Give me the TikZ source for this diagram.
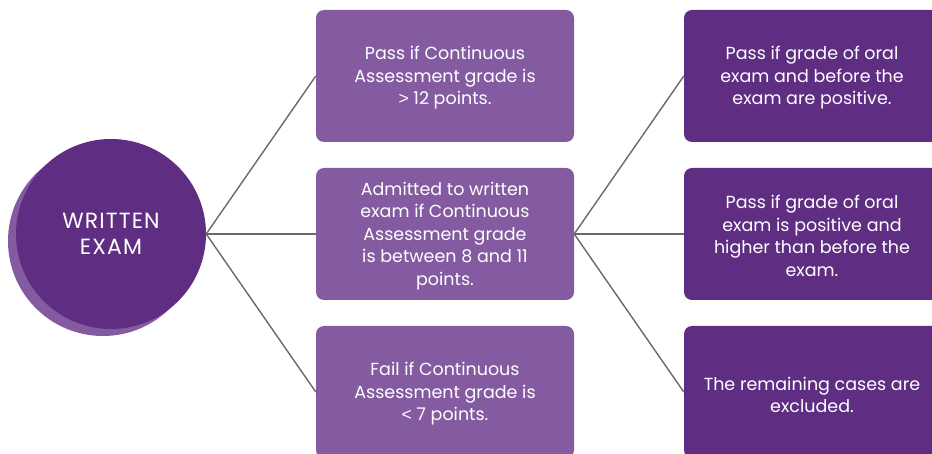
\documentclass[tikz,border=0pt]{standalone}
\usepackage{fontspec}
\setmainfont{Poppins}
\newfontfamily\symfont{Liberation Sans}
\newcommand{\gtsym}{{\symfont >}}
\newcommand{\ltsym}{{\symfont <}}
\definecolor{lightpurple}{HTML}{845BA0}
\definecolor{darkpurple}{HTML}{5F2E82}
\definecolor{linegray}{HTML}{6A6A6A}
\begin{document}
\begin{tikzpicture}[x=1pt,y=-1pt,
  box/.style={rectangle, rounded corners=8pt, minimum width=258pt, minimum height=132pt, inner sep=0pt},
  leftbox/.style={box, fill=lightpurple},
  rightbox/.style={box, fill=darkpurple, minimum width=260pt},
  txt/.style={inner sep=0pt, text=white, align=center, font=\fontsize{17.5}{22.5}\selectfont, yshift=-2pt},
  conn/.style={draw=linegray, line width=1.4pt}]
\clip (0,0) rectangle (932,454);
\fill[white] (0,0) rectangle (932,454);
% circle with shadow
\fill[lightpurple] (103,241) circle (95);
\node[circle, fill=darkpurple, minimum size=190pt, inner sep=0pt, text=white, align=center,
  font=\fontsize{22}{26.5}\selectfont\addfontfeatures{LetterSpace=5}] (c) at (111,234) {WRITTEN\\EXAM};
% left boxes
\node[leftbox] (l1) at (445,76) {};
\node[leftbox] (l2) at (445,234) {};
\node[leftbox] (l3) at (445,392) {};
\node[txt] (t1) at (l1.center) {Pass if Continuous\\Assessment grade is\\\gtsym{} 12 points.};
\node[txt] (t2) at (l2.center) {Admitted to written\\exam if Continuous\\Assessment grade\\is between 8 and 11\\points.};
\node[txt] (t3) at (l3.center) {Fail if Continuous\\Assessment grade is\\\ltsym{} 7 points.};
% right boxes
\node[rightbox] (r1) at (814,76) {};
\node[rightbox] (r2) at (814,234) {};
\node[rightbox] (r3) at (814,392) {};
\node[txt, xshift=-2pt] (u1) at (r1.center) {Pass if grade of oral\\exam and before the\\exam are positive.};
\node[txt, xshift=-2pt] (u2) at (r2.center) {Pass if grade of oral\\exam is positive and\\higher than before the\\exam.};
\node[txt, xshift=-2pt, yshift=-1pt] (u3) at (r3.center) {The remaining cases are\\excluded.};
% connectors
\draw[conn] (c.east) -- (l1.west);
\draw[conn] (c.east) -- (l2.west);
\draw[conn] (c.east) -- (l3.west);
\draw[conn] (l2.east) -- (r1.west);
\draw[conn] (l2.east) -- (r2.west);
\draw[conn] (l2.east) -- (r3.west);
\end{tikzpicture}
\end{document}
